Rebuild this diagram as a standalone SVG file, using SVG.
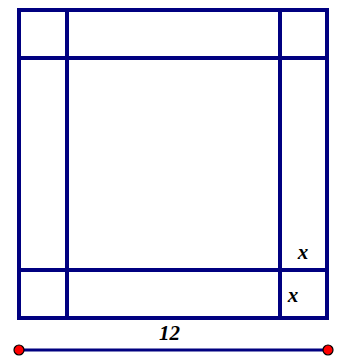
<svg xmlns="http://www.w3.org/2000/svg" width="341" height="358" viewBox="0 0 341 358">
<style>
.ln{stroke:#000080;stroke-width:4;fill:none;stroke-linecap:square}
.seg{stroke:#000080;stroke-width:3}
.pt{fill:#ff0000;stroke:#000000;stroke-width:1.2}
.lbl{font-family:"Liberation Serif","Times New Roman",serif;font-weight:bold;font-style:italic;font-size:21px;fill:#000;text-anchor:middle}
</style>
<g id="square">
<rect class="ln" x="19" y="10" width="308" height="308"/>
</g>
<g id="connectors">
<line class="ln" x1="67" y1="10" x2="67" y2="318"/>
<line class="ln" x1="280" y1="10" x2="280" y2="318"/>
<line class="ln" x1="19" y1="58" x2="327" y2="58"/>
<line class="ln" x1="19" y1="270" x2="327" y2="270"/>
</g>
<g id="segment">
<line class="seg" x1="19" y1="350" x2="328" y2="350"/>
<circle class="pt" cx="19" cy="350" r="5"/>
<circle class="pt" cx="328" cy="350" r="5"/>
</g>
<g id="labels">
<text class="lbl" x="169.5" y="340">12</text>
<text class="lbl" x="303" y="259">x</text>
<text class="lbl" x="293" y="302">x</text>
</g>
</svg>
